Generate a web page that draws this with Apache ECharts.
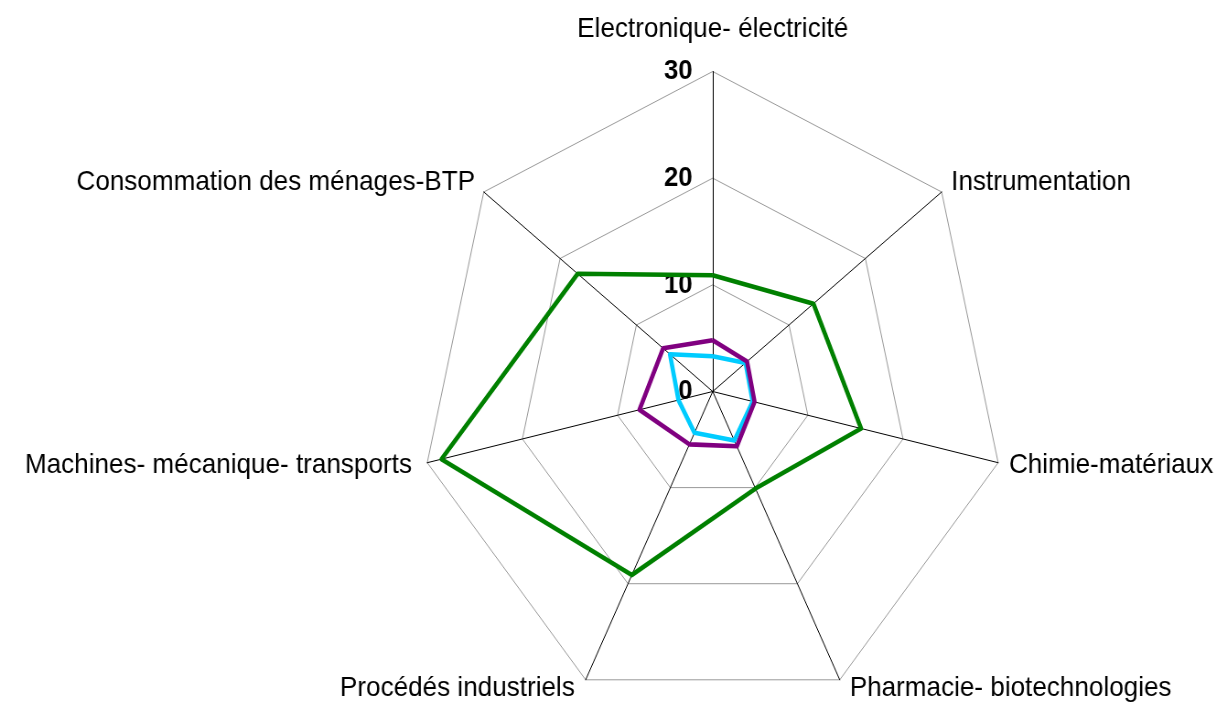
<!DOCTYPE html>
<html>
<head>
<meta charset="utf-8">
<script src="https://cdn.jsdelivr.net/npm/echarts@6/dist/echarts.min.js"></script>
<style>
html,body{margin:0;padding:0;background:#fff;overflow:hidden;width:1218px;height:705px;}
/* the reference chart is horizontally compressed (elliptical radar, narrow text) */
#chart{width:1332px;height:705px;transform:scaleX(0.915);transform-origin:0 0;}
</style>
</head>
<body>
<div id="chart"></div>
<script>
// Categories in clockwise order starting at the top
const categories = [
  'Electronique- électricité',
  'Instrumentation',
  'Chimie-matériaux',
  'Pharmacie- biotechnologies',
  'Procédés industriels',
  'Machines- mécanique- transports',
  'Consommation des ménages-BTP'
];
const seriesGreen  = [10.9, 13.2, 15.6, 10.1, 19.1, 28.5, 17.7];
const seriesPurple = [4.8, 4.5, 4.4, 5.7, 5.5, 7.7, 6.5];
const seriesCyan   = [3.3, 4.3, 4.2, 5.1, 4.3, 3.6, 5.6];
const tickLabels = ['0', '10', '20', '30'];
const axisMax = 30;

// per-label distance from the end of the spoke and horizontal nudges
const nameGaps = [28, 16, 10, 9, 9, 10, 16];
const namePads = [
  0,
  [0, 0, 0, -2],
  [0, 0, 0, 2],
  [0, 0, 0, 7],
  [0, 8, 0, 0],
  [0, 7, 0, 0],
  [0, -3, 0, 0]
];

// ECharts places indicators counter-clockwise; reorder to get a clockwise layout
const order = [0, 6, 5, 4, 3, 2, 1];
const reorder = arr => order.map(i => arr[i]);

const indicators = order.map((i, k) => {
  const ind = {
    name: categories[i], max: axisMax, min: 0, nameGap: nameGaps[i],
    nameTextStyle: { padding: namePads[i] }
  };
  if (k === 0) ind.axisLabel = { show: true };
  return ind;
});

const chart = echarts.init(document.getElementById('chart'), null, { renderer: 'canvas' });
chart.setOption({
  backgroundColor: '#ffffff',
  animation: false,
  radar: {
    center: [778.9, 391.5],
    radius: 320,
    startAngle: 90,
    splitNumber: 3,
    shape: 'polygon',
    indicator: indicators,
    axisName: {
      color: '#000',
      fontFamily: 'Liberation Sans, Arial, sans-serif',
      fontSize: 28.5
    },
    axisLine: { lineStyle: { color: '#000', width: 1 } },
    splitLine: { lineStyle: { color: '#999', width: 1 } },
    splitArea: { show: false },
    axisTick: { show: false },
    axisLabel: {
      show: false,
      color: '#000',
      fontFamily: 'Liberation Sans, Arial, sans-serif',
      fontSize: 28,
      fontWeight: 'bold',
      margin: 22,
      formatter: v => tickLabels[Math.round(v / 10)] ?? String(v)
    }
  },
  series: [{
    type: 'radar',
    symbol: 'none',
    data: [
      { value: reorder(seriesCyan), name: 'cyan',
        lineStyle: { color: '#00CCFF', width: 4.6 }, itemStyle: { color: '#00CCFF' } },
      { value: reorder(seriesPurple), name: 'purple',
        lineStyle: { color: '#800080', width: 4.6 }, itemStyle: { color: '#800080' } },
      { value: reorder(seriesGreen), name: 'green',
        lineStyle: { color: '#008000', width: 4.6 }, itemStyle: { color: '#008000' } }
    ]
  }]
});
</script>
</body>
</html>
